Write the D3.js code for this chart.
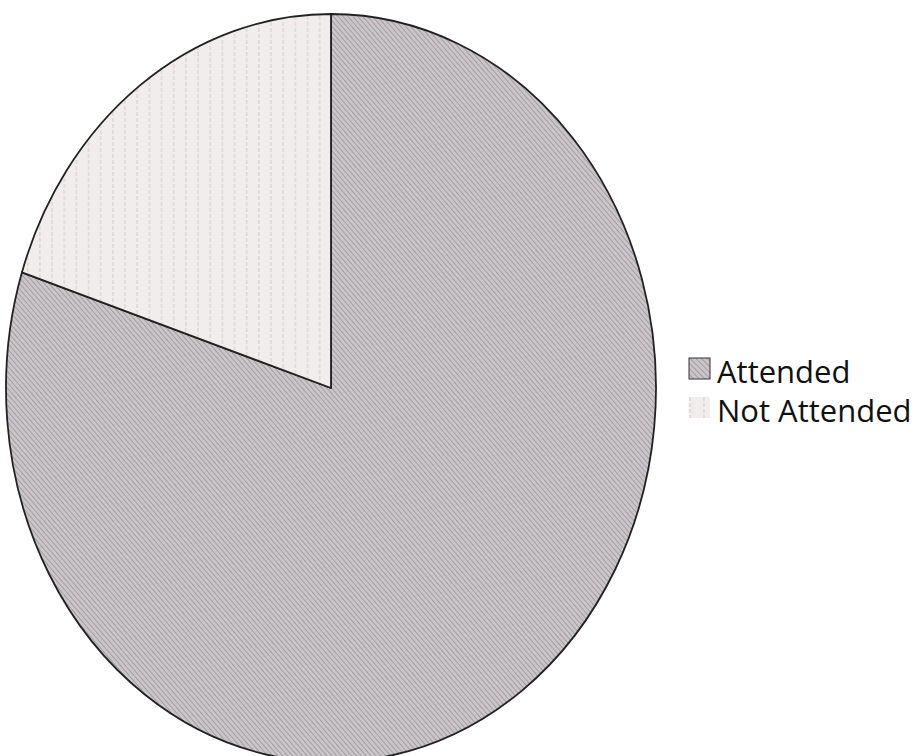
<!DOCTYPE html>
<html>
<head>
<meta charset="utf-8">
<script src="https://cdn.jsdelivr.net/npm/d3@7"></script>
<style>
  html, body { margin: 0; padding: 0; background: #fff; }
  svg { display: block; }
</style>
</head>
<body>
<div id="chart"></div>
<script>
// data
var categories = ['Attended', 'Not Attended'];
var values     = [80, 20];
var fills      = ['url(#hatch-attended)', 'url(#lines-not-attended)'];

var W = 920, H = 756;
var cx = 331, cy = 388, rx = 325, ry = 374;

var svg = d3.select('#chart').append('svg')
    .attr('width', W)
    .attr('height', H);

// fill patterns (scan-like textures)
var defs = svg.append('defs');

var pA = defs.append('pattern')
    .attr('id', 'hatch-attended')
    .attr('patternUnits', 'userSpaceOnUse')
    .attr('width', 4).attr('height', 4)
    .attr('patternTransform', 'rotate(-45)');
pA.append('rect').attr('width', 4).attr('height', 4).attr('fill', '#c9c5c9');
pA.append('line').attr('x1', 0.5).attr('y1', 0).attr('x2', 0.5).attr('y2', 4)
    .attr('stroke', '#7a767a').attr('stroke-width', 1).attr('stroke-opacity', 0.5);

var pN = defs.append('pattern')
    .attr('id', 'lines-not-attended')
    .attr('patternUnits', 'userSpaceOnUse')
    .attr('width', 14).attr('height', 6);
pN.append('rect').attr('width', 14).attr('height', 6).attr('fill', '#f1eded');
pN.append('line').attr('x1', 1).attr('y1', 0).attr('x2', 1).attr('y2', 4)
    .attr('stroke', '#b9b4b4').attr('stroke-width', 1).attr('stroke-opacity', 0.6);

// pie, drawn as circle of radius ry and squashed horizontally
var pie = d3.pie().sort(null).value(function(d) { return d; });
var arc = d3.arc().innerRadius(0).outerRadius(ry);

var g = svg.append('g')
    .attr('transform', 'translate(' + cx + ',' + cy + ') scale(' + (rx / ry) + ',1)');

g.selectAll('path.slice')
    .data(pie(values))
    .enter().append('path')
    .attr('class', 'slice')
    .attr('d', arc)
    .attr('fill', function(d, i) { return fills[i]; })
    .attr('stroke', '#222')
    .attr('stroke-width', 1.8)
    .attr('stroke-linejoin', 'round')
    .attr('vector-effect', 'non-scaling-stroke');

// legend
var legend = svg.append('g').attr('transform', 'translate(689,358)');
var rowH = 39;

var items = legend.selectAll('g.item')
    .data(categories)
    .enter().append('g')
    .attr('class', 'item')
    .attr('transform', function(d, i) { return 'translate(0,' + (i * rowH) + ')'; });

items.append('rect')
    .attr('width', 21).attr('height', 21)
    .attr('fill', function(d, i) { return fills[i]; })
    .attr('stroke', function(d, i) { return i === 0 ? '#333' : 'none'; })
    .attr('stroke-width', 1);

items.append('text')
    .attr('x', 28)
    .attr('y', 25)
    .attr('font-family', '"Open Sans", "Noto Sans", sans-serif')
    .attr('font-size', '31px')
    .attr('fill', '#111')
    .text(function(d) { return d; });
</script>
</body>
</html>
